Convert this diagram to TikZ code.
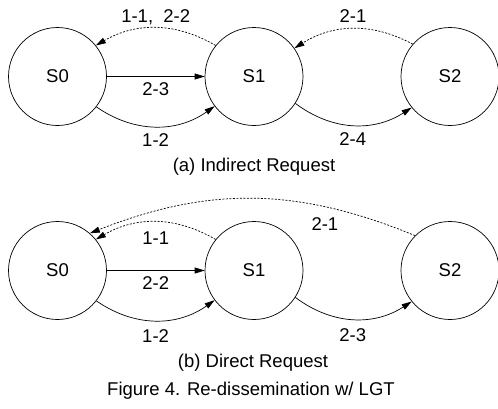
\documentclass[tikz,border=0pt]{standalone}
\usepackage{fontspec}
\setmainfont{Liberation Sans}
\usetikzlibrary{arrows.meta}

\begin{document}
\begin{tikzpicture}[x=1pt,y=-1pt,
  state/.style={draw,circle,minimum size=98pt,inner sep=0pt,line width=0.7pt,font=\fontsize{18.5}{21}\selectfont},
  msg/.style={-{Triangle[length=10pt,width=6pt]},line width=0.7pt},
  req/.style={msg,dash pattern=on 2pt off 1.5pt},
  lbl/.style={inner sep=1pt,font=\fontsize{18.5}{21}\selectfont}]
\useasboundingbox (0,0) rectangle (498,408);

% (a) Indirect Request
\begin{scope}
\node[state] (a0) at (57.5,76.5) {S0};
\node[state] (a1) at (254,76.5) {S1};
\node[state] (a2) at (450,76.5) {S2};
\draw[msg] (a0) -- node[lbl,below=5pt] (a23) {2-3} (a1);
\draw[msg] (a0.-38) to[bend right=35] node[lbl,below=6pt] (a12) {1-2} (a1.217);
\draw[req] (a1.141) to[bend right=30] node[lbl,above=2pt] (a11) {1-1,\ \ 2-2} (a0.39);
\draw[msg] (a1.-33) to[bend right=35] node[lbl,below=6pt] (a24) {2-4} (a2.219);
\draw[req] (a2.139) to[bend right=30] node[lbl,above=5pt] (a21) {2-1} (a1.35);
\node[lbl] (acap) at (254,167) {(a) Indirect Request};
\end{scope}

% (b) Direct Request
\begin{scope}
\node[state] (b0) at (57.5,270.5) {S0};
\node[state] (b1) at (254,270.5) {S1};
\node[state] (b2) at (450,270.5) {S2};
\draw[msg] (b0) -- node[lbl,below=4.5pt] (b22) {2-2} (b1);
\draw[msg] (b0.-38) to[bend right=35] node[lbl,below=8pt] (b12) {1-2} (b1.217);
\draw[req] (b1.141) to[bend right=30] node[lbl,below=8pt] (b11) {1-1} (b0.39);
\draw[msg] (b1.-33) to[bend right=35] node[lbl,below=8pt] (b23) {2-3} (b2.219);
\draw[req] (b2.135) to[bend right=22] node[lbl,pos=0.27,below=9pt] (b21) {2-1} (b0.49);
\node[lbl] (bcap) at (253,363) {(b) Direct Request};
\end{scope}

% caption
\node[lbl] (fig) at (251,391) {Figure 4. Re-dissemination w/ LGT};
\end{tikzpicture}
\end{document}
